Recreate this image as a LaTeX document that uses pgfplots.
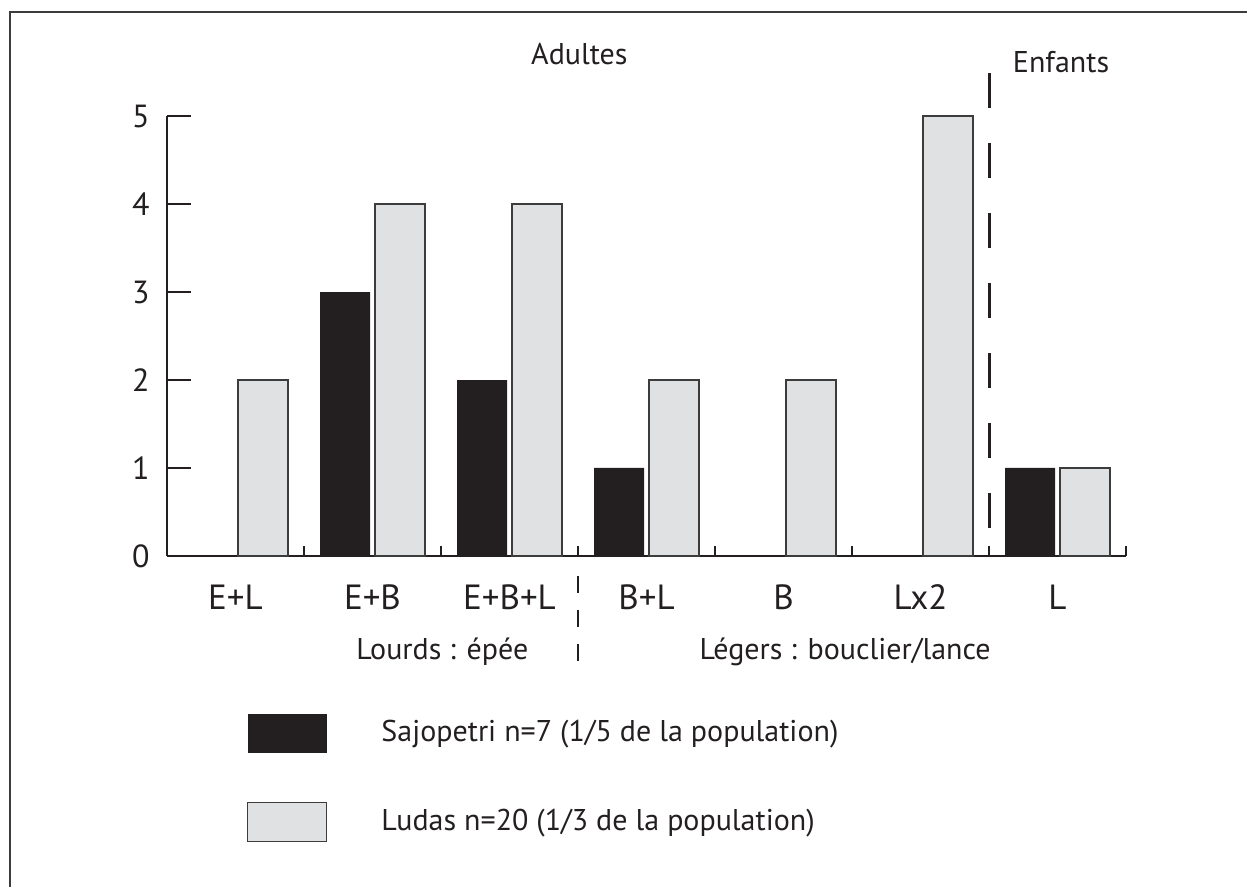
\documentclass[border=0pt]{standalone}
\usepackage{fontspec}
\setmainfont{PT Sans}
\usepackage{pgfplots}
\pgfplotsset{compat=1.18}
\definecolor{ink}{HTML}{231F20}
\definecolor{lightbar}{HTML}{E0E1E3}
\definecolor{edge}{HTML}{3C3C3C}
\begin{document}
\fontsize{15pt}{18pt}\selectfont
\begin{tikzpicture}
\path[use as bounding box] (-83.5pt,-165.5pt) rectangle (540pt,278pt);
\draw[color=edge, line width=1pt] (-78.5pt,-165.5pt) -- (-78.5pt,272pt) -- (540pt,272pt);
\begin{axis}[
  at={(0pt,0pt)}, anchor=south west,
  scale only axis, width=479.5pt, height=220pt,
  xmin=-0.5, xmax=6.5, ymin=0, ymax=5,
  axis x line*=bottom, axis y line*=left,
  axis line style={-, line width=1.3pt, ink},
  xtick={0,...,6}, xticklabels={E+L,E+B,E+B+L,B+L,B,Lx2,L},
  xtick style={draw=none},
  ytick={0,...,5},
  tick align=inside, major tick length=12pt,
  ytick style={line width=1.3pt, ink},
  yticklabel style={anchor=east, xshift=-3.5pt, font=\fontsize{16pt}{19pt}\selectfont},
  xticklabel style={anchor=base, yshift=-27pt, font=\fontsize{17.5pt}{21pt}\selectfont},
  tick label style={text=ink},
  /pgf/number format/assume math mode=true,
  clip=false,
  legend cell align=left,
  legend style={at={(axis description cs:0.0834,-0.359)}, anchor=north west,
    draw=none, fill=none, inner sep=0pt, outer sep=0pt,
    row sep=24.5pt, column sep=27pt, nodes={inner sep=0pt, text=ink}},
]
\addplot[ybar, bar width=25pt, bar shift=-13.75pt, fill=ink, draw=none,
  legend image code/.code={\fill[ink] (0pt,-9.75pt) rectangle (39.5pt,9.75pt);}]
  coordinates {(0,0) (1,3) (2,2) (3,1) (4,0) (5,0) (6,1)};
\addlegendentry{Sajopetri n=7 (1/5 de la population)}
\addplot[ybar, bar width=25pt, bar shift=13.75pt, fill=lightbar, draw=edge, line width=0.75pt,
  legend image code/.code={\draw[fill=lightbar, draw=edge, line width=0.75pt] (0pt,-9.75pt) rectangle (39.5pt,9.75pt);}]
  coordinates {(0,2) (1,4) (2,4) (3,2) (4,2) (5,5) (6,1)};
\addlegendentry{Ludas n=20 (1/3 de la population)}
\draw[ink, line width=1.3pt] (axis cs:0.5,0) -- ++(0pt,5pt);
\draw[ink, line width=1.3pt] (axis cs:1.5,0) -- ++(0pt,5pt);
\draw[ink, line width=1.3pt] (axis cs:2.5,0) -- ++(0pt,5pt);
\draw[ink, line width=1.3pt] (axis cs:3.5,0) -- ++(0pt,5pt);
\draw[ink, line width=1.3pt] (axis cs:4.5,0) -- ++(0pt,5pt);
\draw[ink, line width=1.3pt] (axis cs:5.5,0) -- ++(0pt,5pt);
\draw[ink, line width=1.3pt] (axis cs:6.5,0) -- ++(0pt,5pt);
\draw[ink, line width=1.5pt, dash pattern=on 17.5pt off 17.5pt] (axis cs:5.5,0.318) -- (axis cs:5.5,5.76);
\draw[ink, line width=1.3pt, dash pattern=on 8.5pt off 8.5pt] (axis cs:2.5,-0.227) -- (axis cs:2.5,-1.193);
\node[anchor=base, text=ink] at (axis cs:2.51,5.58) {Adultes};
\node[anchor=base, text=ink] at (axis cs:6.026,5.49) {Enfants};
\node[anchor=base, text=ink] at (axis cs:1.51,-1.18) {Lourds : épée};
\node[anchor=base, text=ink] at (axis cs:4.45,-1.18) {Légers : bouclier/lance};
\end{axis}
\end{tikzpicture}
\end{document}
